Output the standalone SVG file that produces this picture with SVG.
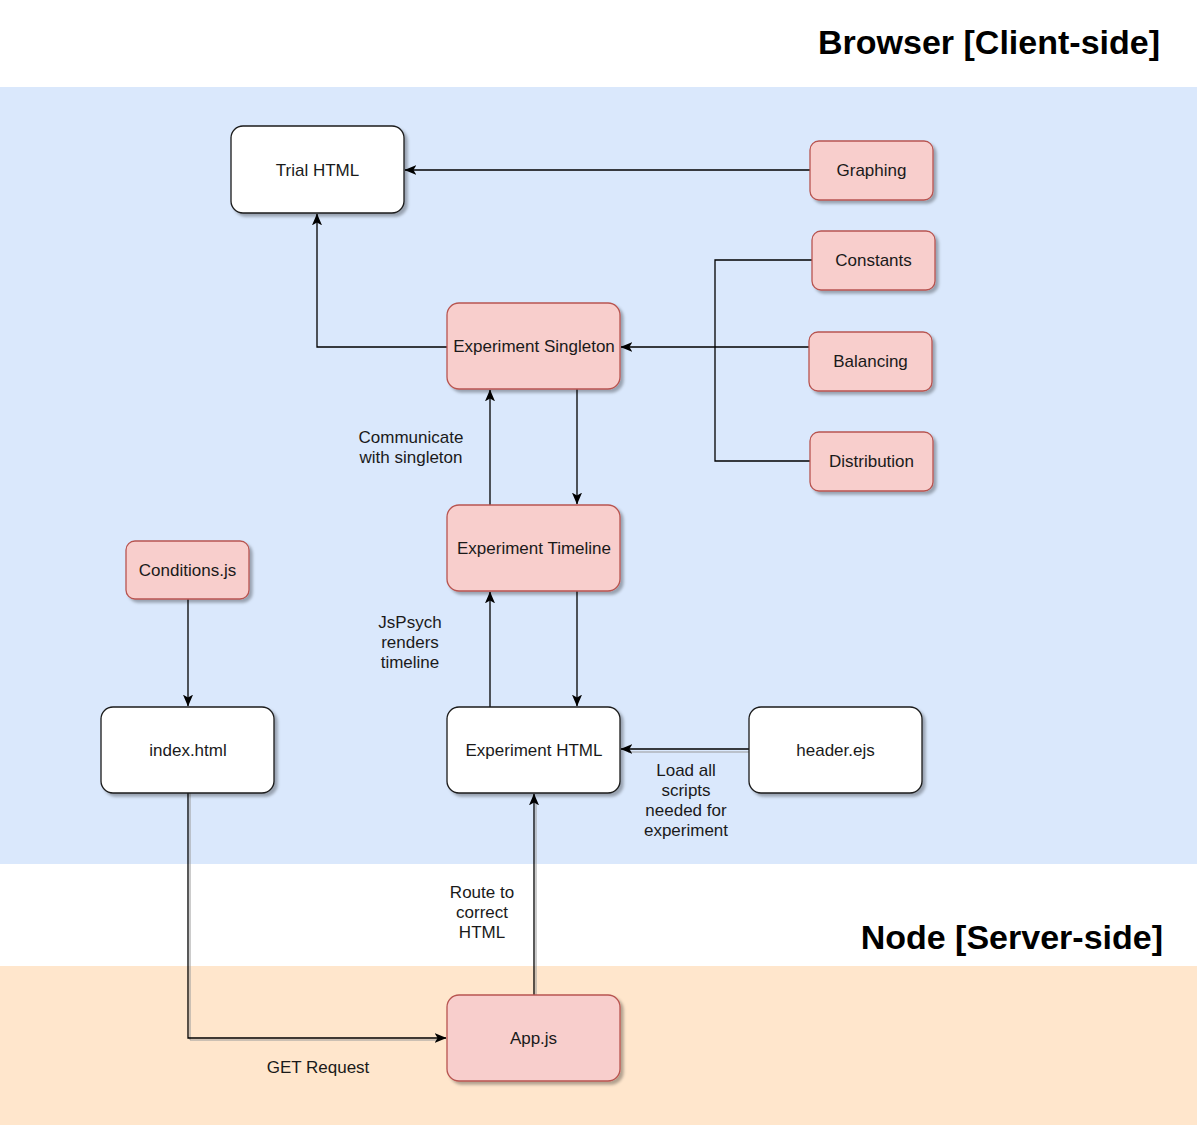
<svg xmlns="http://www.w3.org/2000/svg" width="1197" height="1125" viewBox="0 0 1197 1125">
<defs>
<style>
.bg{stroke:none}
.n rect{stroke-width:1.3;filter:url(#sh)}
.w rect{fill:#ffffff;stroke:#1a1a1a}
.p rect{fill:#f8cecc;stroke:#b85450}
.n text,.lbl{font-family:"Liberation Sans",Arial,sans-serif;font-size:17px;fill:#1a1a1a;text-anchor:middle}
.ttl{font-family:"Liberation Sans",Arial,sans-serif;font-size:34px;font-weight:bold;fill:#000;text-anchor:end}
.c path{fill:none;stroke:#000;stroke-width:1.3}
.c path.ghost{stroke:#9a9a9a;stroke-width:1}
</style>
<filter id="sh" x="-10%" y="-10%" width="130%" height="130%">
<feDropShadow dx="3" dy="3" stdDeviation="1.5" flood-color="#000" flood-opacity="0.3"/>
</filter>
<marker id="ar" viewBox="0 0 10 10" refX="9.5" refY="5" markerWidth="12" markerHeight="12" markerUnits="userSpaceOnUse" orient="auto">
<path d="M0,0.8 L10,5 L0,9.2 L2.5,5 Z" fill="#000"/>
</marker>
</defs>
<rect width="1197" height="1125" fill="#ffffff"/>
<rect class="bg" x="0" y="87" width="1197" height="777" fill="#dae8fc"/>
<rect class="bg" x="0" y="966" width="1197" height="159" fill="#ffe6cc"/>
<text class="ttl" x="1160" y="54">Browser [Client-side]</text>
<text class="ttl" x="1163" y="949">Node [Server-side]</text>

<g class="c" id="connectors">
<path d="M810,170 H405" marker-end="url(#ar)"/>
<path d="M812,260 H715 V461 H810"/>
<path d="M809,347 H621" marker-end="url(#ar)"/>
<path d="M447,347 H317 V214" marker-end="url(#ar)"/>
<path d="M577,389 V504" marker-end="url(#ar)"/>
<path d="M490,505 V390" marker-end="url(#ar)"/>
<path d="M490,707 V592" marker-end="url(#ar)"/>
<path d="M577,591 V706" marker-end="url(#ar)"/>
<path class="ghost" d="M749,752 H628"/>
<path d="M749,749 H621" marker-end="url(#ar)"/>
<path d="M188,599 V706" marker-end="url(#ar)"/>
<path class="ghost" d="M190,793 V1040 H438"/>
<path d="M188,793 V1038 H446" marker-end="url(#ar)"/>
<path class="ghost" d="M536,995 V802"/>
<path d="M534,995 V794" marker-end="url(#ar)"/>
<text class="lbl" x="411" y="443">Communicate</text>
<text class="lbl" x="411" y="463">with singleton</text>
<text class="lbl" x="410" y="628">JsPsych</text>
<text class="lbl" x="410" y="648">renders</text>
<text class="lbl" x="410" y="668">timeline</text>
<text class="lbl" x="686" y="776">Load all</text>
<text class="lbl" x="686" y="796">scripts</text>
<text class="lbl" x="686" y="816">needed for</text>
<text class="lbl" x="686" y="836">experiment</text>
<text class="lbl" x="482" y="898">Route to</text>
<text class="lbl" x="482" y="918">correct</text>
<text class="lbl" x="482" y="938">HTML</text>
<text class="lbl" x="318" y="1073">GET Request</text>
</g>

<g id="trial-html" class="n w"><rect x="231" y="126" width="173" height="87" rx="12"/><text x="317.5" y="176">Trial HTML</text></g>
<g id="graphing" class="n p"><rect x="810" y="141" width="123" height="59" rx="9"/><text x="871.5" y="176">Graphing</text></g>
<g id="constants" class="n p"><rect x="812" y="231" width="123" height="59" rx="9"/><text x="873.5" y="266">Constants</text></g>
<g id="balancing" class="n p"><rect x="809" y="332" width="123" height="59" rx="9"/><text x="870.5" y="367">Balancing</text></g>
<g id="distribution" class="n p"><rect x="810" y="432" width="123" height="59" rx="9"/><text x="871.5" y="467">Distribution</text></g>
<g id="experiment-singleton" class="n p"><rect x="447" y="303" width="173" height="86" rx="12"/><text x="534" y="352">Experiment Singleton</text></g>
<g id="experiment-timeline" class="n p"><rect x="447" y="505" width="173" height="86" rx="12"/><text x="534" y="554">Experiment Timeline</text></g>
<g id="conditions-js" class="n p"><rect x="126" y="541" width="123" height="58" rx="9"/><text x="187.5" y="576">Conditions.js</text></g>
<g id="index-html" class="n w"><rect x="101" y="707" width="173" height="86" rx="12"/><text x="188" y="756">index.html</text></g>
<g id="experiment-html" class="n w"><rect x="447" y="707" width="173" height="86" rx="12"/><text x="534" y="756">Experiment HTML</text></g>
<g id="header-ejs" class="n w"><rect x="749" y="707" width="173" height="86" rx="12"/><text x="835.5" y="756">header.ejs</text></g>
<g id="app-js" class="n p"><rect x="447" y="995" width="173" height="86" rx="12"/><text x="533.5" y="1044">App.js</text></g>
</svg>
